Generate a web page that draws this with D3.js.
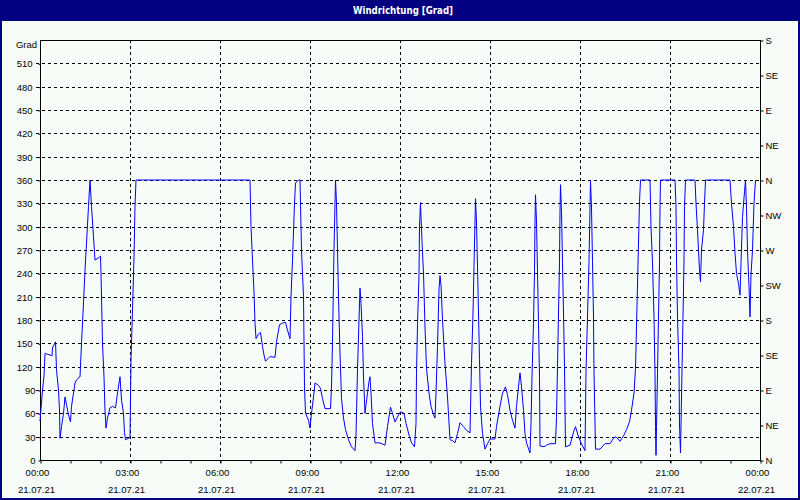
<!DOCTYPE html>
<html><head><meta charset="utf-8">
<script src="https://cdn.jsdelivr.net/npm/d3@7"></script>
<style>body{margin:0;background:#f8fcf8}svg{display:block}</style>
</head><body>
<script>
const title = "Windrichtung [Grad]";
const yUnit = "Grad";
const dateLabels = ["21.07.21","21.07.21","21.07.21","21.07.21","21.07.21","21.07.21","21.07.21","21.07.21","22.07.21"];
const timeLabels = ["00:00","03:00","06:00","09:00","12:00","15:00","18:00","21:00","00:00"];
const yTicks = [0,30,60,90,120,150,180,210,240,270,300,330,360,390,420,450,480,510];
const dirTicks = [0,45,90,135,180,225,270,315,360,405,450,495,540];
const dirNames = ["N","NE","E","SE","S","SW","W","NW","N","NE","E","SE","S"];
// minutes since 21.07.21 00:00
const minutes = [0,5,8,10,20,24,25,31,33,37,39,40,43,47,50,53,57,61,63,67,70,73,80,83,87,90,93,97,100,103,107,110,117,121,122,125,128,130,132,135,140,145,151,155,160,163,167,169,171,180,182,185,188,190,192,
420,422,425,428,430,432,437,441,445,448,451,457,460,470,473,479,485,491,495,500,502,505,509,511,517,520,521,523,527,529,531,537,540,543,547,550,557,561,565,570,581,583,585,588,590,591,593,595,597,600,603,607,611,617,623,630,632,635,638,640,642,645,647,650,652,655,658,660,662,665,670,680,
690,695,701,705,710,717,721,728,732,739,743,749,752,753,755,758,759,761,762,764,767,770,773,778,782,787,790,792,795,798,800,802,805,810,815,820,825,830,835,840,847,853,860,861,863,866,868,870,871,873,875,877,879,881,885,890,895,900,910,913,920,925,931,935,940,945,950,953,957,960,963,967,970,973,980,982,984,987,989,990,991,993,995,997,999,1000,1008,1013,1020,1031,1033,1035,1037,1039,1040,1041,1043,1045,1047,1049,1051,1060,1063,1067,1071,1076,1082,1090,1092,1095,1098,1100,1101,1103,1105,1107,1108,1111,1120,1130,1140,1147,1152,1160,1167,1173,1179,1183,1188,1191,1193,1195,1197,1199,1201,1220,1222,1225,1228,1230,1231,1232,1233,1235,1237,1239,1240,1241,1270,1272,1273,1275,1278,1279,1281,1282,1284,1286,1288,1289,1291,1310,1312,1315,1317,1319,1321,1323,1327,1329,1331,1380,1383,1387,1390,1393,1397,1400,1402,1405,1409,1411,1413,1415,1418,1420,1422,1425,1428,1431];
const degrees = [50,90,108,137,135,134,144,152,116,90,64,28,43,60,81,71,58,49,69,86,99,103,107,150,202,244,279,326,360,326,287,257,260,262,240,150,107,64,41,54,67,69,67,86,107,77,60,35,26,29,129,193,261,326,360,
360,300,257,216,176,156,162,164,146,135,127,131,133,132,152,174,176,177,167,156,210,257,330,356,360,360,330,270,210,94,60,51,41,60,81,99,96,92,79,66,66,94,152,270,330,360,330,270,210,137,79,54,39,26,17,12,32,116,180,221,201,159,107,60,71,86,101,107,86,47,22,22,
19,43,68,60,49,58,62,60,47,30,22,17,47,111,174,238,300,331,313,281,240,171,118,86,69,58,54,86,146,219,237,225,180,124,81,26,25,22,34,48,43,38,35,64,124,189,249,306,336,306,249,189,129,69,34,14,21,27,27,43,69,86,94,84,64,51,41,69,94,112,94,64,34,22,9,47,107,176,242,306,341,306,242,176,107,18,17,19,21,21,56,120,189,253,319,354,319,253,189,120,17,19,26,36,43,32,22,12,114,184,255,324,359,324,255,184,114,14,14,21,21,28,30,24,31,39,49,64,86,118,171,225,279,332,360,360,300,253,184,111,43,6,43,111,184,253,326,360,360,326,257,184,116,45,9,45,116,184,257,326,360,360,330,296,270,244,229,270,296,330,360,360,330,300,266,240,227,212,253,313,345,360,323,270,223,184,238,270,330,360];

const W = 800, H = 500;
const svg = d3.select("body").append("svg").attr("width", W).attr("height", H);
svg.append("rect").attr("width", W).attr("height", H).attr("fill", "#f8fcf8");

const x = d3.scaleLinear().domain([0, 1440]).range([40, 760]);
const y = d3.scaleLinear().domain([0, 540]).range([460, 40]);
const font = "'Liberation Sans', Arial, sans-serif";

// title bar
svg.append("rect").attr("x", 0).attr("y", 0).attr("width", W).attr("height", 21).attr("fill", "#000080");
svg.append("text").attr("x", 403).attr("y", 14).attr("text-anchor", "middle")
  .attr("fill", "#fff").attr("font-family", "'DejaVu Sans Condensed','DejaVu Sans',sans-serif")
  .attr("font-weight", "bold").attr("font-size", 11)
  .attr("textLength", 100).attr("lengthAdjust", "spacingAndGlyphs").text(title);

// grid
const grid = svg.append("g").attr("stroke", "#000").attr("stroke-dasharray", "3,3").attr("shape-rendering", "crispEdges");
grid.selectAll("line.h").data(yTicks.filter(d => d > 0)).join("line").attr("class", "h")
  .attr("x1", 36).attr("x2", 760).attr("y1", d => Math.round(y(d)) + 0.5).attr("y2", d => Math.round(y(d)) + 0.5);
grid.selectAll("line.v").data(d3.range(180, 1440, 180)).join("line").attr("class", "v")
  .attr("y1", 40).attr("y2", 464).attr("x1", d => Math.round(x(d)) + 0.5).attr("x2", d => Math.round(x(d)) + 0.5);

// left axis
const yAxis = d3.axisLeft(y).tickValues(yTicks).tickSize(4).tickSizeOuter(0).tickPadding(1);
const gl = svg.append("g").attr("transform", "translate(40.5,0.5)").call(yAxis);
gl.selectAll("text").attr("font-family", font).attr("font-size", 9.5).attr("fill", "#000")
  .attr("dx", d => d >= 100 ? -3 : 0);
gl.selectAll(".tick line").attr("stroke-dasharray", "2,2");
gl.select(".domain").remove();
svg.append("text").attr("x", 37).attr("y", 48).attr("text-anchor", "end")
  .attr("font-family", font).attr("font-size", 9.5).text(yUnit);

// right axis
const rAxis = d3.axisRight(y).tickValues(dirTicks).tickFormat((d, i) => dirNames[i]).tickSize(3).tickSizeOuter(0).tickPadding(2);
const gr = svg.append("g").attr("transform", "translate(760.5,0.5)").call(rAxis);
gr.selectAll("text").attr("font-family", font).attr("font-size", 9.5).attr("fill", "#000");
gr.select(".domain").remove();

// bottom axis
const xAxis = d3.axisBottom(x).tickValues(d3.range(0, 1441, 60)).tickSize(3).tickSizeOuter(0).tickFormat("");
const gb = svg.append("g").attr("transform", "translate(0.5,460.5)").call(xAxis);
gb.select(".domain").remove();
const labs = svg.append("g").attr("font-family", font).attr("font-size", 9.5).attr("text-anchor", "middle");
labs.selectAll("text.t").data(timeLabels).join("text").attr("class", "t")
  .attr("x", (d, i) => x(i * 180) - 2.5).attr("y", 476).text(d => d);
labs.selectAll("text.d").data(dateLabels).join("text").attr("class", "d")
  .attr("x", (d, i) => x(i * 180) - 3.5).attr("y", 493).text(d => d);

// frame
svg.append("rect").attr("x", 40.5).attr("y", 40.5).attr("width", 720).attr("height", 420)
  .attr("fill", "none").attr("stroke", "#000").attr("shape-rendering", "crispEdges");

// data line
const pts = minutes.map((m, i) => [m, degrees[i]]);
svg.append("path").datum(pts).attr("fill", "none").attr("stroke", "#0000ff").attr("stroke-width", 1)
  .attr("d", d3.line().x(d => x(d[0])).y(d => y(d[1])));

// outer border
svg.append("rect").attr("x", 1).attr("y", 1).attr("width", W - 2).attr("height", H - 2)
  .attr("fill", "none").attr("stroke", "#000080").attr("stroke-width", 2);
</script>
</body></html>
